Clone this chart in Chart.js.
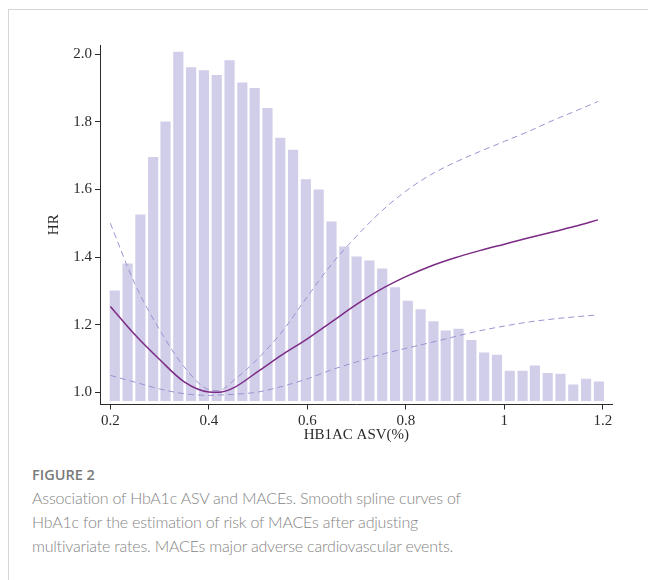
<!DOCTYPE html>
<html>
<head>
<meta charset="utf-8">
<script src="https://cdn.jsdelivr.net/npm/chart.js@4/dist/chart.umd.min.js"></script>
<style>
  body { margin: 0; background: #fff; }
  #frame { position: absolute; left: 8px; top: 9px; width: 700px; height: 600px;
           border-top: 1px solid #d6d6d6; border-left: 1px solid #d6d6d6; }
  #chart { position: absolute; left: 0; top: 0; }
  #figlabel { position: absolute; left: 32px; top: 465px; font-family: "Open Sans", sans-serif;
              font-size: 14.5px; font-weight: 600; line-height: 20px; color: #7a7a7a; }
  #caption { position: absolute; left: 32px; top: 486px; width: 600px; font-family: "Lato", sans-serif;
             font-size: 16px; font-weight: 300; letter-spacing: -0.2px; line-height: 24px; color: #858585; }
</style>
</head>
<body>
<div id="frame"></div>
<canvas id="chart" width="648" height="460"></canvas>
<div id="figlabel">FIGURE 2</div>
<div id="caption">Association of HbA1c ASV and MACEs. Smooth spline curves of<br>HbA1c for the estimation of risk of MACEs after adjusting<br>multivariate rates. MACEs major adverse cardiovascular events.</div>
<script>
// histogram bins (HbA1c ASV) and their heights drawn on the HR axis
var binCenters = [0.209, 0.235, 0.261, 0.287, 0.312, 0.338, 0.364, 0.390, 0.416, 0.442,
    0.468, 0.493, 0.519, 0.545, 0.571, 0.597, 0.623, 0.649, 0.675, 0.700,
    0.726, 0.752, 0.778, 0.804, 0.830, 0.856, 0.881, 0.907, 0.933, 0.959,
    0.985, 1.011, 1.037, 1.062, 1.088, 1.114, 1.140, 1.166, 1.192];
var barHeights = [1.300, 1.380, 1.525, 1.695, 1.800, 2.006, 1.960, 1.951, 1.937, 1.981,
    1.915, 1.899, 1.840, 1.752, 1.716, 1.629, 1.599, 1.504, 1.430, 1.401,
    1.389, 1.365, 1.310, 1.270, 1.245, 1.209, 1.182, 1.187, 1.154, 1.117,
    1.110, 1.063, 1.063, 1.078, 1.056, 1.054, 1.022, 1.039, 1.031];
var barBase = 0.975;

// spline curve: estimate with upper and lower bounds
var curveX = [0.20, 0.25, 0.30, 0.35, 0.40, 0.42, 0.45, 0.50, 0.55, 0.60, 0.65,
    0.70, 0.75, 0.80, 0.85, 0.90, 0.95, 1.00, 1.05, 1.10, 1.15, 1.19];
var hrEstimate = [1.254, 1.170, 1.097, 1.031, 1.001, 1.000, 1.013, 1.062, 1.112, 1.158, 1.209,
    1.260, 1.305, 1.342, 1.373, 1.398, 1.419, 1.438, 1.457, 1.475, 1.493, 1.510];
var hrUpper = [1.500, 1.320, 1.185, 1.075, 1.008, 1.005, 1.035, 1.100, 1.182, 1.283, 1.380,
    1.462, 1.535, 1.595, 1.643, 1.680, 1.712, 1.742, 1.772, 1.805, 1.835, 1.860];
var hrLower = [1.050, 1.030, 1.010, 0.996, 0.991, 0.992, 0.994, 1.001, 1.018, 1.040, 1.067,
    1.090, 1.112, 1.130, 1.147, 1.165, 1.182, 1.196, 1.208, 1.217, 1.224, 1.229];

var xTicks = [0.2, 0.4, 0.6, 0.8, 1, 1.2];
var xTickLabels = ['0.2', '0.4', '0.6', '0.8', '1', '1.2'];
var yTicks = [1.0, 1.2, 1.4, 1.6, 1.8, 2.0];
var yTickLabels = ['1.0', '1.2', '1.4', '1.6', '1.8', '2.0'];

function pairs(xs, ys) {
    return xs.map(function (x, i) { return { x: x, y: ys[i] }; });
}

var serif = { family: '"Liberation Serif", "Times New Roman", serif', size: 15 };
var ink = '#2b2b2b';

var ctx = document.getElementById('chart').getContext('2d');
new Chart(ctx, {
    data: {
        datasets: [
            {
                type: 'line',
                data: pairs(curveX, hrEstimate),
                borderColor: '#7b2a85',
                borderWidth: 1.5,
                pointRadius: 0,
                cubicInterpolationMode: 'monotone'
            },
            {
                type: 'line',
                data: pairs(curveX, hrUpper),
                borderColor: '#9b93d2',
                borderWidth: 1,
                borderDash: [6, 4],
                pointRadius: 0,
                cubicInterpolationMode: 'monotone'
            },
            {
                type: 'line',
                data: pairs(curveX, hrLower),
                borderColor: '#9b93d2',
                borderWidth: 1,
                borderDash: [6, 4],
                pointRadius: 0,
                cubicInterpolationMode: 'monotone'
            },
            {
                type: 'bar',
                data: pairs(binCenters, barHeights),
                base: barBase,
                backgroundColor: 'rgb(209, 206, 233)',
                borderWidth: 0,
                barThickness: 9.5
            }
        ]
    },
    options: {
        responsive: false,
        animation: false,
        layout: { padding: { left: 30, right: 35.3, top: 45, bottom: 15.5 } },
        plugins: { legend: { display: false }, tooltip: { enabled: false } },
        scales: {
            x: {
                type: 'linear',
                min: 0.179,
                max: 1.22,
                offset: false,
                afterBuildTicks: function (scale) {
                    scale.ticks = xTicks.map(function (v) { return { value: v }; });
                },
                afterFit: function (scale) { scale.height = 40; },
                ticks: {
                    padding: 3,
                    color: ink,
                    font: serif,
                    maxRotation: 0,
                    callback: function (value) { return xTickLabels[xTicks.indexOf(value)]; }
                },
                grid: { offset: false, drawOnChartArea: false, drawTicks: true, tickLength: 5, color: ink },
                border: { display: true, color: ink, width: 1 },
                title: { display: true, text: 'HB1AC ASV(%)', color: ink, font: serif, padding: { top: 0, bottom: 0 } }
            },
            y: {
                type: 'linear',
                min: 0.964,
                max: 2.027,
                afterBuildTicks: function (scale) {
                    scale.ticks = yTicks.map(function (v) { return { value: v }; });
                },
                afterFit: function (scale) { scale.width = 70; },
                ticks: {
                    padding: 3,
                    color: ink,
                    font: serif,
                    callback: function (value) { return yTickLabels[yTicks.indexOf(value)]; }
                },
                grid: { drawOnChartArea: false, drawTicks: true, tickLength: 5, color: ink },
                border: { display: true, color: ink, width: 1 },
                title: { display: true, text: 'HR', color: ink, font: serif, padding: { top: 15, bottom: 0 } }
            }
        }
    }
});
</script>
</body>
</html>
